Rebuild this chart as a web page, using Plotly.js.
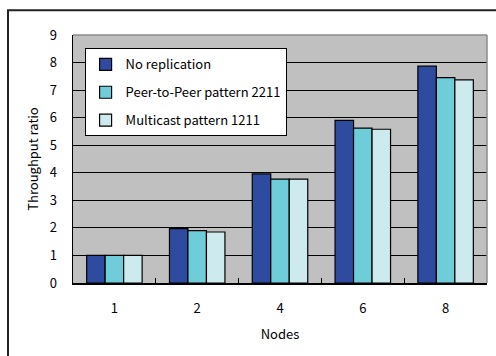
<!DOCTYPE html>
<html>
<head>
<meta charset="utf-8">
<script src="https://cdn.plot.ly/plotly-3.0.1.min.js"></script>
<style>
  html, body { margin: 0; padding: 0; background: #fff; }
  #chart { width: 496px; height: 356px; }
</style>
</head>
<body>
<div id="chart"></div>
<script>
// Node counts on the x axis
const nodes = ['1', '2', '4', '6', '8'];

// Throughput ratio per replication scheme
const noReplication = [1.00, 1.97, 3.96, 5.90, 7.87];
const peerToPeer2211 = [1.00, 1.90, 3.77, 5.62, 7.45];
const multicast1211 = [1.00, 1.85, 3.77, 5.58, 7.37];

const seriesNames = ['No replication', 'Peer-to-Peer pattern 2211', 'Multicast pattern 1211'];
const seriesColors = ['#2e4b9f', '#6fcdd9', '#cdebef'];
const yTicks = [0, 1, 2, 3, 4, 5, 6, 7, 8, 9];

const fam = '"Noto Sans CJK JP", "DejaVu Sans", sans-serif';
const font = { family: fam, size: 13, color: '#000' };

const series = [noReplication, peerToPeer2211, multicast1211];
const traces = series.map((vals, i) => ({
  type: 'bar',
  name: seriesNames[i],
  x: nodes,
  y: vals,
  legendgroup: 'g' + i,
  marker: { color: seriesColors[i], line: { color: '#000', width: 1.2 } }
}));

const layout = {
  width: 496,
  height: 356,
  margin: { l: 73, r: 9, t: 35, b: 73 },
  paper_bgcolor: '#fff',
  plot_bgcolor: '#c0c0c0',
  font: font,
  barmode: 'group',
  bargap: 0.33,
  bargroupgap: 0,
  showlegend: true,
  legend: {
    x: 0.028, y: 0.946, xanchor: 'left', yanchor: 'top',
    bgcolor: '#fff', bordercolor: '#000', borderwidth: 1,
    traceorder: 'grouped', tracegroupgap: 8,
    font: { family: fam, size: 13, color: '#000' },
    itemclick: false
  },
  xaxis: {
    type: 'category',
    tickson: 'boundaries',
    ticks: 'inside', ticklen: 5, tickcolor: '#000', tickwidth: 1,
    ticklabelstandoff: 13,
    showline: true, linecolor: '#000', linewidth: 1.5,
    showgrid: false, zeroline: false,
    title: { text: 'Nodes', font: { family: fam, size: 13, color: '#000' }, standoff: 14 }
  },
  yaxis: {
    range: [0, 9],
    tickvals: yTicks,
    ticks: 'inside', ticklen: 5, tickcolor: '#000', tickwidth: 1,
    ticklabelstandoff: 12,
    showline: true, linecolor: '#000', linewidth: 1.5,
    showgrid: true, gridcolor: '#000', gridwidth: 1,
    zeroline: false,
    title: { text: 'Throughput ratio', font: { family: fam, size: 13, color: '#000' }, standoff: 8 }
  },
  shapes: [
    // grey frame on the top and right of the plot area
    { type: 'line', xref: 'paper', yref: 'paper', x0: 0, x1: 1, y0: 1, y1: 1, line: { color: '#8c8c8c', width: 1.5 } },
    { type: 'line', xref: 'paper', yref: 'paper', x0: 1, x1: 1, y0: 0, y1: 1, line: { color: '#8c8c8c', width: 1.5 } },
    // outer chart frame (left and top edges)
    { type: 'path', xref: 'paper', yref: 'paper',
      path: 'M -0.157 -0.4 L -0.157 1.1 L 1.1 1.1',
      line: { color: '#222', width: 2 } }
  ]
};

Plotly.newPlot('chart', traces, layout, { displayModeBar: false, staticPlot: true });
</script>
</body>
</html>
